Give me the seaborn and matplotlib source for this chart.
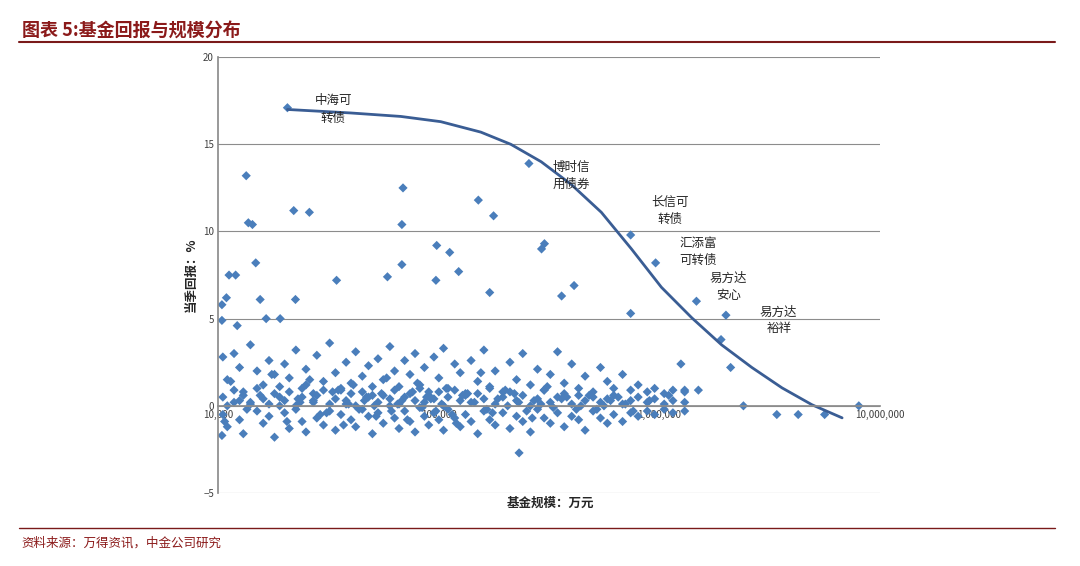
import matplotlib
matplotlib.use("Agg")
import matplotlib.pyplot as plt
import seaborn as sns
import pandas as pd
from matplotlib.lines import Line2D
from matplotlib.ticker import FuncFormatter

sns.set_theme(style="white")
plt.rcParams['font.family'] = ['Noto Sans CJK SC', 'DejaVu Sans']

# notable points (size: 万元, return: %)
out_x = [20600,13400,13700,14300,14800,11200,12000,22000,25900,68800,68000,68000,58500,34400,
         151000,177000,97800,112000,301000,292000,256000,740000,960000,410000,360000,170000,97000,123000,
         1470000,2000000,740000,1900000,2100000,8000000,5600000,4250000,3400000,2400000,231000,10400,10700,
         10400,10900,10400,12200,15500,22400,16500,19100,1250000,1300000,1500000]
out_y = [17.1,13.2,10.5,10.4,8.2,7.5,7.5,11.2,11.1,12.5,10.4,8.1,7.4,7.2,
         11.8,10.9,9.2,8.8,9.3,9.0,13.9,9.8,8.2,6.9,6.3,6.5,7.2,7.7,
         6.0,5.2,5.3,3.8,2.2,0.0,-0.5,-0.5,-0.5,0.0,-2.7,-1.7,-0.9,
         5.8,6.2,4.9,4.6,6.1,6.1,5.0,5.0,2.4,0.9,0.9]

cluster_x = [10500,11000,11800,12500,13000,14000,15000,16000,17000,18000,19000,20000,21000,22500,24000,25000,
             27000,28000,30000,32000,34000,36000,38000,40000,42000,45000,48000,50000,53000,56000,60000,63000,
             66000,70000,74000,78000,82000,86000,90000,95000,100000,105000,110000,118000,125000,132000,140000,
             150000,160000,170000,180000,195000,210000,225000,240000,260000,280000,300000,320000,345000,370000,
             400000,430000,460000,500000,540000,580000,620000,680000,740000,800000,880000,950000,1050000,1150000,1300000]
yA = [2.8,1.5,3.0,2.2,0.8,3.5,2.0,1.2,2.6,1.8,0.5,2.4,1.6,3.2,1.0,2.1,0.7,2.9,1.4,3.6,1.9,0.9,2.5,1.3,3.1,1.7,
      2.3,0.6,2.7,1.5,3.4,2.0,1.1,2.6,1.8,3.0,1.2,2.2,0.8,2.8,1.6,3.3,1.0,2.4,1.9,0.7,2.6,1.4,3.2,1.1,2.0,0.8,
      2.5,1.5,3.0,1.2,2.1,0.9,1.8,3.1,1.3,2.4,1.0,1.7,0.8,2.2,1.4,1.0,1.8,0.9,1.2,0.8,1.0,0.7,0.9,0.8]
yB = [-0.5,-1.2,0.2,-0.8,-1.6,0.1,-0.3,-1.0,-0.6,-1.8,0.0,-0.4,-1.3,-0.2,-0.9,-1.5,0.3,-0.7,-1.1,-0.3,-1.4,-0.5,
      0.1,-0.8,-1.2,-0.2,-0.6,-1.6,-0.4,-1.0,0.0,-0.7,-1.3,-0.3,-0.9,-1.5,-0.1,-0.6,-1.1,-0.4,-0.8,-1.4,-0.2,-0.7,
      -1.2,-0.5,-0.9,-1.6,-0.3,-0.8,-1.1,-0.4,-1.3,-0.6,-0.9,-1.5,-0.2,-0.7,-1.0,-0.4,-1.2,-0.6,-0.8,-1.4,-0.3,
      -0.7,-1.0,-0.5,-0.9,-0.4,-0.6,-0.3,-0.5,-0.2,-0.4,-0.3]
yC = [0.5,0.0,0.9,0.3,0.6,0.2,1.0,0.4,0.1,0.7,1.1,0.3,0.8,0.0,0.5,1.2,0.2,0.6,0.9,0.1,0.4,1.0,0.3,0.7,0.0,0.8,
      0.5,1.1,0.2,0.6,0.4,0.9,0.1,0.5,0.7,0.3,1.0,0.2,0.6,0.4,0.8,0.0,0.5,0.9,0.3,0.6,0.2,0.7,0.4,1.0,0.1,0.5,
      0.8,0.3,0.6,0.0,0.4,0.9,0.2,0.5,0.7,0.1,0.6,0.3,0.5,0.2,0.4,0.6,0.1,0.3,0.5,0.2,0.4,0.1,0.3,0.2]
cluster_x2 = [11400,13500,15500,17500,20500,23000,26000,29000,33000,37000,41000,46000,52000,58000,65000,72000,
              80000,88000,97000,108000,120000,135000,155000,175000,200000,230000,265000,310000,360000,420000,
              480000,560000,650000,760000,900000,1100000]
yD = [1.4,-0.2,0.6,1.8,-0.9,0.4,1.5,-0.5,0.8,-1.1,1.2,0.3,-0.6,1.6,0.1,-0.8,1.3,0.5,-0.3,1.0,-1.0,0.7,1.9,-0.4,
      0.9,0.2,-0.7,1.1,0.4,-0.2,0.6,0.0,0.5,-0.3,0.3,0.6]
cluster_x3 = [23500,31000,35000,39000,43500,47000,51000,55000,61000,68000,76000,84000,92000,103000,115000,128000,
              145000,165000,185000,205000,220000,250000,270000,290000,330000,380000,440000,520000,600000,700000]
yE = [0.2,-0.4,0.9,0.1,-0.2,0.5,0.0,0.7,-0.3,0.3,0.8,-0.1,0.4,0.1,-0.5,0.6,0.2,-0.2,0.4,0.0,0.7,-0.3,0.3,0.1,
      -0.1,0.5,0.0,-0.2,0.3,0.1]

curve_x = [20600,39800,67200,102000,155000,212000,291000,398000,545000,746000,1020000,1400000,1910000,
           2620000,3590000,4910000,6720000]
curve_y = [17.0,16.8,16.6,16.3,15.7,15.0,14.0,12.7,11.1,9.0,6.8,5.05,3.5,2.2,1.03,0.06,-0.69]

labels = ["中海可\n转债","博时信\n用债券","长信可\n转债","汇添富\n可转债","易方达\n安心","易方达\n裕祥"]
label_x = [33300,400000,1110000,1500000,2050000,3470000]
label_y = [17.0,13.2,11.2,8.8,6.8,4.9]

df = pd.DataFrame({
    "size": out_x + cluster_x * 3 + cluster_x2 + cluster_x3,
    "ret": out_y + yA + yB + yC + yD + yE,
})

fig = plt.figure(figsize=(10.8, 5.66), dpi=100)
ax = fig.add_axes([0.202, 0.129, 0.613, 0.770])
sns.scatterplot(data=df, x="size", y="ret", ax=ax, marker="D", s=22, color="#4a7ebb",
                edgecolor="none", linewidth=0)
sns.lineplot(x=curve_x, y=curve_y, ax=ax, color="#3a5d94", lw=2, sort=False)
ax.set_xscale("log")
ax.set_xlim(10000, 10000000)
ax.set_ylim(-5, 20)
ax.set_yticks([-5, 0, 5, 10, 15, 20])
ax.set_xticks([10000, 100000, 1000000, 10000000])
ax.xaxis.set_minor_locator(matplotlib.ticker.NullLocator())
ax.xaxis.set_major_formatter(FuncFormatter(lambda v, p: f"{int(round(v)):,}"))
ax.yaxis.grid(True, color="#8c8c8c", lw=0.8)
for s in ["top", "right"]:
    ax.spines[s].set_visible(False)
ax.spines["bottom"].set_position(("data", 0))
ax.spines["bottom"].set_color("#8c8c8c")
ax.spines["left"].set_color("#8c8c8c")
ax.tick_params(axis="both", labelsize=7, colors="#404040", length=0, pad=3)
ax.set_xlabel("")
ax.set_ylabel("当季回报：%", fontsize=9, fontweight="bold")
for t, x, y in zip(labels, label_x, label_y):
    ax.text(x, y, t, fontsize=9, ha="center", va="center", linespacing=1.4, zorder=5)

fig.text(0.51, 0.105, "基金规模：万元", fontsize=9, fontweight="bold", ha="center")
fig.text(0.02, 0.945, "图表 5:基金回报与规模分布", fontsize=13, color="#8B1A1A",
         style="italic", fontweight="bold", ha="left", va="center")
fig.add_artist(Line2D([0.018, 0.977], [0.926, 0.926], color="#7a1a1a", lw=1.5))
fig.add_artist(Line2D([0.018, 0.977], [0.067, 0.067], color="#7a1a1a", lw=1.0))
fig.text(0.02, 0.04, "资料来源：万得资讯，中金公司研究", fontsize=9, color="#8B1A1A",
         style="italic", ha="left", va="center")
fig.savefig("out.png", dpi=100)
